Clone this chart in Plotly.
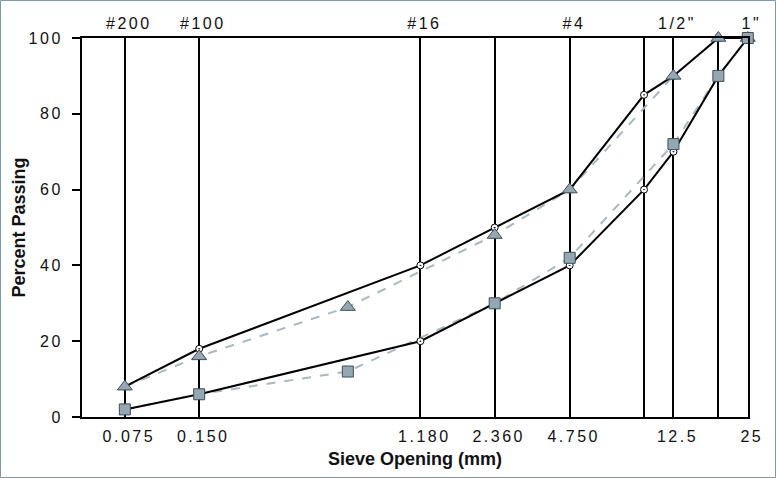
import numpy as np
import plotly.graph_objects as go

# Sieve sizes (mm)
sieves = [0.075, 0.15, 1.18, 2.36, 4.75, 9.5, 12.5, 19, 25]
sieve_ticktext = ["0.075", "0.150", "1.180", "2.360", "4.750", "", "12.5", "", "25"]
top_vals = [0.075, 0.15, 1.18, 4.75, 12.5, 25]
top_text = ["#200", "#100", "#16", "#4", '1/2"', '1"']

# Specification limits
upper_limit = [8, 18, 40, 50, 60, 85, 90, 100, 100]
lower_limit = [2, 6, 20, 30, 40, 60, 70, 90, 100]

# Gradations
grad_sizes = [0.075, 0.15, 0.6, 2.36, 4.75, 12.5, 19, 25]
grad_tri = [8, 16, 29, 48, 60, 90, 100, 100]
grad_sq = [2, 6, 12, 30, 42, 72, 90, 100]

FONT = "Liberation Sans, Arial, sans-serif"
dash_col = "#a9b9c1"
mk_fill = "#93a8b2"
mk_line = "#3f4f57"

fig = go.Figure()

# dashed gradation lines (beneath)
for ys in (grad_tri, grad_sq):
    fig.add_trace(go.Scatter(
        x=grad_sizes, y=ys, mode="lines",
        line=dict(color=dash_col, width=2, dash="dash"),
        showlegend=False, hoverinfo="skip"))
# specification limits
for ys in (upper_limit, lower_limit):
    fig.add_trace(go.Scatter(
        x=sieves, y=ys, mode="lines+markers",
        line=dict(color="black", width=2),
        marker=dict(symbol="circle-dot", size=7, color="white",
                    line=dict(color="black", width=1)),
        cliponaxis=False, showlegend=False))
# gradation markers on top
fig.add_trace(go.Scatter(
    x=grad_sizes, y=grad_tri, mode="markers",
    marker=dict(symbol="triangle-up", size=13, color=mk_fill,
                line=dict(color=mk_line, width=1)),
    cliponaxis=False, showlegend=False))
fig.add_trace(go.Scatter(
    x=grad_sizes, y=grad_sq, mode="markers",
    marker=dict(symbol="square", size=11, color=mk_fill,
                line=dict(color=mk_line, width=1)),
    cliponaxis=False, showlegend=False))

annotations = []
for v, t in zip(top_vals, top_text):
    annotations.append(dict(
        x=np.log10(v), xref="x", y=1.039, yref="paper",
        text=t, showarrow=False, xanchor="center", yanchor="middle",
        xshift=4,
        font=dict(family=FONT, size=16, color="#111")))

fig.update_layout(
    width=776, height=478,
    margin=dict(l=82, r=28, t=38, b=61),
    paper_bgcolor="white", plot_bgcolor="white",
    font=dict(family=FONT, color="#111"),
    annotations=annotations,
    shapes=[dict(type="rect", xref="paper", yref="paper",
                 xsizemode="pixel", ysizemode="pixel",
                 xanchor=0, yanchor=0,
                 x0=-81.5, x1=776 - 82 - 0.5, y0=-60.5, y1=478 - 61 - 0.5,
                 line=dict(color="#7f97aa", width=1), layer="below")],
    xaxis=dict(
        type="log", range=[np.log10(0.0503), np.log10(25.05)],
        tickvals=sieves, ticktext=sieve_ticktext, ticks="",
        showgrid=True, gridcolor="black", gridwidth=2,
        showline=True, linecolor="black", linewidth=2, mirror=True,
        tickfont=dict(family=FONT, size=16, color="#111"),
        ticklabelstandoff=4, ticklabelshift=4,
        title=dict(text="<b>Sieve Opening (mm)</b>", standoff=8,
                   font=dict(family=FONT, size=18, color="#111")),
        zeroline=False),
    yaxis=dict(
        range=[0, 100], tickvals=[0, 20, 40, 60, 80, 100],
        ticks="outside", ticklen=8, tickwidth=1.5, tickcolor="black",
        showgrid=False, showline=True, linecolor="black", linewidth=2,
        mirror=True, zeroline=False,
        tickfont=dict(family=FONT, size=16, color="#111"),
        ticklabelstandoff=6,
        title=dict(text="<b>Percent Passing</b>", standoff=6,
                   font=dict(family=FONT, size=18, color="#111"))),
)

post = """
document.querySelectorAll('.xtick text, .ytick text, .annotation-text').forEach(function(e){
  e.style.letterSpacing = '2.5px';
});
"""
fig.write_html("out.html", post_script=post)
